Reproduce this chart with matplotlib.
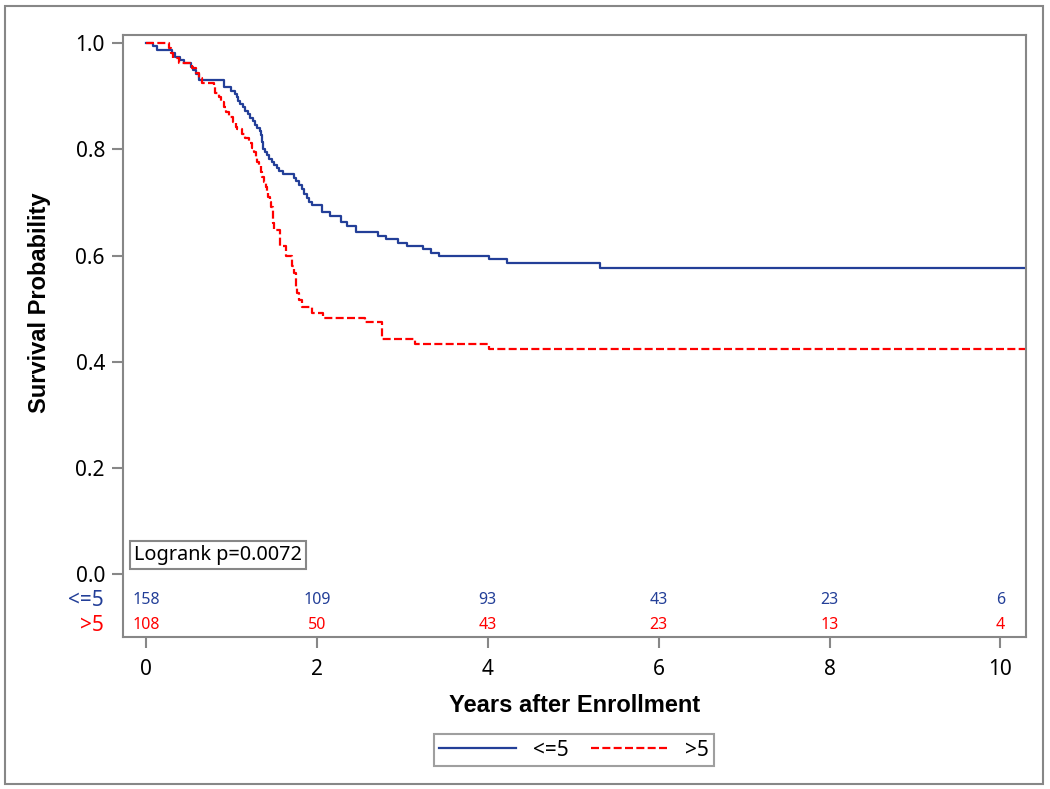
import matplotlib
matplotlib.use("Agg")
import matplotlib.pyplot as plt
from matplotlib.patches import Rectangle
from matplotlib.lines import Line2D

# ---------------- data ----------------
groups = ["<=5", ">5"]

t_le5 = [0, 0.08, 0.13, 0.30, 0.34, 0.40, 0.44, 0.53, 0.55, 0.58, 0.62, 0.91, 1.00,
         1.04, 1.06, 1.08, 1.10, 1.13, 1.16, 1.19, 1.22, 1.25, 1.28, 1.30, 1.33, 1.35,
         1.36, 1.37, 1.39, 1.41, 1.44, 1.47, 1.50, 1.53, 1.56, 1.60, 1.73, 1.76, 1.79,
         1.82, 1.85, 1.88, 1.91, 1.94, 2.06, 2.15, 2.28, 2.35, 2.46, 2.71, 2.81, 2.95,
         3.05, 3.24, 3.33, 3.43, 4.01, 4.22, 5.31]
s_le5 = [1.0, 0.994, 0.987, 0.981, 0.975, 0.968, 0.962, 0.956, 0.949, 0.943, 0.930, 0.918, 0.911,
         0.905, 0.899, 0.892, 0.886, 0.880, 0.873, 0.867, 0.860, 0.854, 0.847, 0.841, 0.834, 0.828,
         0.815, 0.800, 0.795, 0.789, 0.783, 0.777, 0.771, 0.766, 0.760, 0.754, 0.747, 0.740, 0.733,
         0.725, 0.717, 0.709, 0.702, 0.695, 0.683, 0.675, 0.664, 0.656, 0.644, 0.638, 0.631, 0.624,
         0.618, 0.612, 0.606, 0.599, 0.593, 0.586, 0.577]

t_gt5 = [0, 0.27, 0.29, 0.31, 0.38, 0.54, 0.58, 0.62, 0.66, 0.80, 0.81, 0.85, 0.88, 0.91,
         0.94, 0.97, 1.02, 1.05, 1.07, 1.12, 1.16, 1.21, 1.24, 1.26, 1.29, 1.30, 1.32, 1.34,
         1.36, 1.38, 1.40, 1.42, 1.43, 1.45, 1.46, 1.48, 1.49, 1.50, 1.57, 1.64, 1.71, 1.73,
         1.75, 1.77, 1.79, 1.82, 1.94, 2.07, 2.56, 2.76, 3.15, 4.02]
s_gt5 = [1.0, 0.991, 0.981, 0.972, 0.963, 0.954, 0.944, 0.935, 0.926, 0.917, 0.907, 0.898, 0.889, 0.880,
         0.870, 0.861, 0.852, 0.843, 0.838, 0.829, 0.822, 0.812, 0.803, 0.796, 0.786, 0.777, 0.768, 0.758,
         0.749, 0.739, 0.730, 0.720, 0.711, 0.701, 0.692, 0.673, 0.661, 0.648, 0.618, 0.599, 0.580, 0.567,
         0.542, 0.529, 0.516, 0.504, 0.493, 0.483, 0.475, 0.444, 0.434, 0.424]

risk_times = [0, 2, 4, 6, 8, 10]
risk_le5 = [158, 109, 93, 43, 23, 6]
risk_gt5 = [108, 50, 43, 23, 13, 4]

x_ticks = [0, 2, 4, 6, 8, 10]
y_ticks = [0.0, 0.2, 0.4, 0.6, 0.8, 1.0]
logrank_text = "Logrank p=0.0072"

# ---------------- style ----------------
BLUE = "#233F98"
RED = "#FF0000"
GRAY = "#878787"
TICKFONT = ["Noto Sans", "DejaVu Sans"]
LABELFONT = ["Liberation Sans", "DejaVu Sans"]
X_END = 10.30

fig = plt.figure(figsize=(10.5, 7.89), dpi=100)
W, H = 1050, 789
ax = fig.add_axes([123 / W, 1 - 637 / H, (1026 - 123) / W, (637 - 35) / H])

ax.step(t_le5 + [X_END], s_le5 + [s_le5[-1]], where="post", color=BLUE, lw=1.6)
ax.step(t_gt5 + [X_END], s_gt5 + [s_gt5[-1]], where="post", color=RED, lw=1.6,
        linestyle=(0, (3.6, 1.5)))

ax.set_xlim(-0.27, X_END)
ax.set_ylim(-0.118, 1.0156)
ax.set_xticks(x_ticks)
ax.set_xticklabels([str(v) for v in x_ticks])
ax.set_yticks(y_ticks)
ax.set_yticklabels([f"{v:.1f}" for v in y_ticks])

for sp in ax.spines.values():
    sp.set_color(GRAY)
    sp.set_linewidth(1.5)
ax.tick_params(axis="both", length=8, width=1.5, color=GRAY, labelsize=15)
ax.tick_params(axis="y", pad=5)
ax.tick_params(axis="x", pad=8)
for lab in ax.get_xticklabels() + ax.get_yticklabels():
    lab.set_fontfamily(TICKFONT)

# number at risk table inside axes
for tt, n1, n2 in zip(risk_times, risk_le5, risk_gt5):
    ax.text(tt, -0.049, str(n1), color=BLUE, ha="center", va="center",
            fontsize=11.5, family=TICKFONT)
    ax.text(tt, -0.096, str(n2), color=RED, ha="center", va="center",
            fontsize=11.5, family=TICKFONT)
trans = ax.get_yaxis_transform()
ax.text(-0.0215, -0.049, groups[0], color=BLUE, ha="right", va="center",
        fontsize=15, family=TICKFONT, transform=trans)
ax.text(-0.0215, -0.096, groups[1], color=RED, ha="right", va="center",
        fontsize=15, family=TICKFONT, transform=trans)

# logrank box
fig.text(134 / W, 1 - 555 / H, logrank_text, fontsize=14.3, family=TICKFONT,
         ha="left", va="center",
         bbox=dict(boxstyle="square,pad=0.22", fc="white", ec=GRAY, lw=1.5))

# axis labels
ax.set_xlabel("Years after Enrollment", fontsize=17, fontweight="bold", family=LABELFONT)
ax.set_ylabel("Survival Probability", fontsize=17, fontweight="bold", family=LABELFONT)
ax.xaxis.label.set_va("center")
ax.yaxis.label.set_va("center")
ax.xaxis.set_label_coords(0.5, -(705 - 637) / 602)
ax.yaxis.set_label_coords((40 - 123) / 903, 1 - (303 - 35) / 602)

# legend
handles = [Line2D([], [], color=BLUE, lw=1.6),
           Line2D([], [], color=RED, lw=1.6, linestyle=(0, (3.6, 1.5)))]
leg = fig.legend(handles, groups, loc="center", bbox_to_anchor=(574 / W, 1 - 750 / H),
                 ncol=2, frameon=True, fancybox=False, edgecolor=GRAY,
                 prop={"family": TICKFONT, "size": 15}, handlelength=3.7,
                 handletextpad=0.8, columnspacing=1.1, borderpad=0.25)
leg.get_frame().set_linewidth(1.5)

# outer frame
fig.patches.append(Rectangle((5 / W, 5 / H), (1043 - 5) / W, (783 - 5) / H,
                             transform=fig.transFigure, fill=False, ec=GRAY, lw=1.5))

fig.savefig("out.png", dpi=100)
